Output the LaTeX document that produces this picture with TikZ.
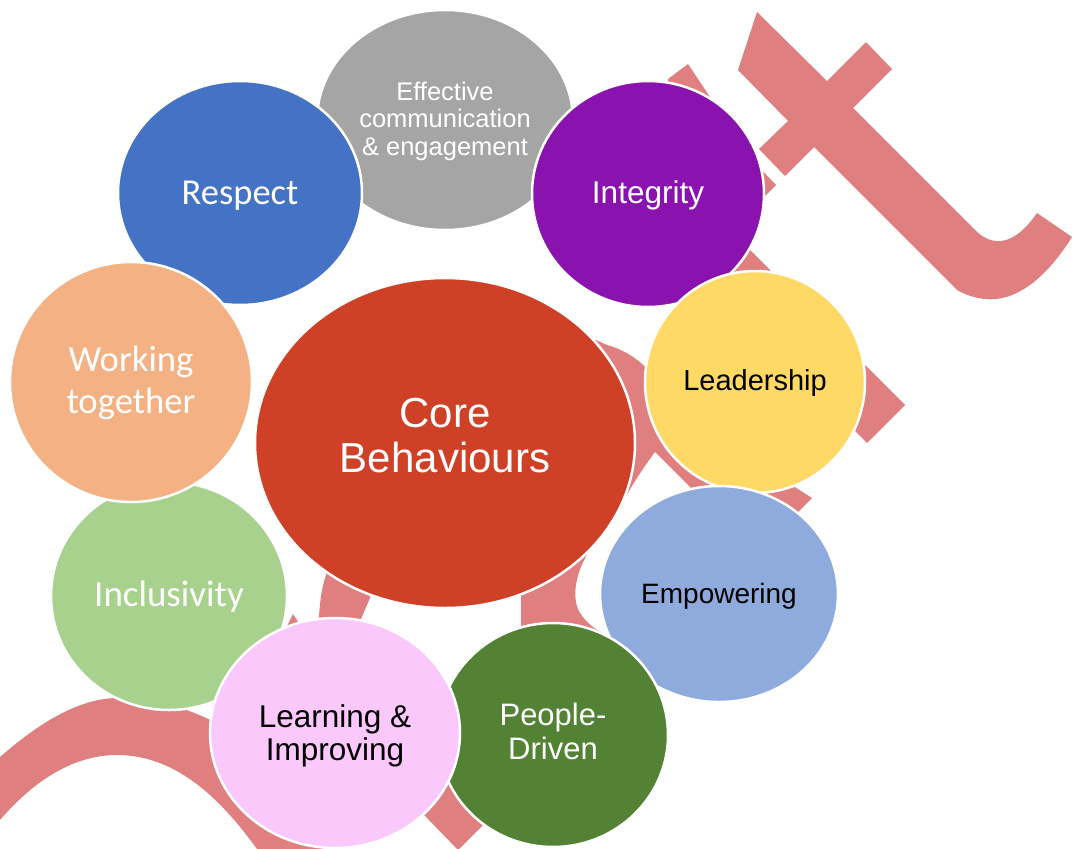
\documentclass[tikz,border=0pt]{standalone}
\usepackage{fontspec}
\setmainfont{Liberation Sans}
\newfontfamily\calibrifont{Carlito}
\usepackage{tikz}
\usetikzlibrary{shapes.geometric}
\definecolor{coreRed}{HTML}{CF4127}
\definecolor{commGray}{HTML}{A5A5A5}
\definecolor{respectBlue}{HTML}{4472C4}
\definecolor{integrityPurple}{HTML}{8A12AE}
\definecolor{leadYellow}{HTML}{FFD966}
\definecolor{empowerBlue}{HTML}{8FAADC}
\definecolor{peopleGreen}{HTML}{548235}
\definecolor{learnPink}{HTML}{FAC8FA}
\definecolor{inclGreen}{HTML}{A9D18E}
\definecolor{workOrange}{HTML}{F4B183}
\definecolor{ribbonPink}{HTML}{DF7F7F}
% bubble text, nudged up or down without moving the bubble
\newcommand{\btext}[2]{\raisebox{#1}[\height][\depth]{\begin{tabular}{@{}c@{}}#2\end{tabular}}}

\begin{document}
\begin{tikzpicture}[x=1pt, y=-1pt, bubble/.style={ellipse, draw=white, line width=2.5pt, inner sep=0pt, align=center}, ribbon/.style={fill=ribbonPink}]
\useasboundingbox (0,0) rectangle (1074,849);
\clip (0,0) rectangle (1074,849);
% pink ribbon shapes behind the bubbles
\fill[ribbon] (757,12) -- (827,81) -- (866,42) -- (892,69) -- (853,108) -- (975,230) .. controls (988,243) and (1010,252) .. (1037,213) -- (1072,237) .. controls (1045,280) and (1015,302) .. (985,299) .. controls (975,298) and (966,295) .. (957,290) -- (814,147) -- (785,176) -- (759,149) -- (788,121) -- (738,70) -- cycle;
\fill[ribbon] (700,200) -- (905,405) -- (867,443) -- (700,276) -- cycle;
\fill[ribbon] (665,100) -- (668,79) -- (688,64) -- (712,100) -- (690,125) -- cycle;
\fill[ribbon] (750,158) -- (776,185) -- (745,216) -- cycle;
\fill[ribbon] (650,447) -- (690,420) -- (812,498) -- (798,512) -- (756,553) -- cycle;
\fill[ribbon] (580,333) -- (607,345) .. controls (625,350) and (640,360) .. (652,374) -- (690,420) -- (655,452) .. controls (640,472) and (628,492) .. (617,512) -- (600,530) -- (588,553) .. controls (574,576) and (572,600) .. (580,613) .. controls (588,625) and (598,632) .. (612,637) -- (521,640) -- (521,590) -- cycle;
\fill[ribbon] (330,540) -- (326,575) .. controls (321,590) and (319,605) .. (318,640) -- (352,640) -- (370,598) -- (380,560) -- cycle;
\fill[ribbon] (280,640) -- (293,614) -- (310,640) -- cycle;
\fill[ribbon] (-10,766) -- (0,757) .. controls (40,722) and (80,698) .. (118,698) .. controls (160,698) and (200,712) .. (232,732) -- (330,849) -- (257,849) .. controls (225,805) and (180,755) .. (117,755) .. controls (70,755) and (30,785) .. (0,820) -- (-10,830) -- cycle;
\fill[ribbon] (400,790) -- (458,850) -- (497,811) -- (440,753) -- cycle;
% bubbles
\node[bubble, fill=commGray, text=white, minimum width=256pt, minimum height=220pt, font=\fontsize{25.5}{27.5}\selectfont] (comm) at (445,120) {\btext{-2pt}{Effective\\communication\\\& engagement}};
\node[bubble, fill=integrityPurple, text=white, minimum width=232pt, minimum height=226pt, font=\fontsize{31.5}{34}\selectfont] (integ) at (648,194) {\btext{-3pt}{Integrity}};
\node[bubble, fill=respectBlue, text=white, minimum width=244pt, minimum height=224pt, font=\calibrifont\fontsize{36.5}{40}\selectfont] (resp) at (240,193) {\btext{-3pt}{Respect}};
\node[bubble, fill=inclGreen, text=white, minimum width=236pt, minimum height=228pt, font=\calibrifont\fontsize{37}{40}\selectfont] (incl) at (169,596) {\btext{-2pt}{Inclusivity}};
\node[bubble, fill=workOrange, text=white, minimum width=242pt, minimum height=240pt, font=\calibrifont\fontsize{36.7}{42}\selectfont] (work) at (131,382) {\btext{-2pt}{Working\\together}};
\node[bubble, fill=leadYellow, text=black, minimum width=220pt, minimum height=222pt, font=\fontsize{29}{32}\selectfont] (lead) at (755,382) {\btext{-2pt}{Leadership}};
\node[bubble, fill=empowerBlue, text=black, minimum width=238pt, minimum height=216pt, font=\fontsize{28}{31}\selectfont] (emp) at (719,594) {\btext{-3pt}{Empowering}};
\node[bubble, fill=peopleGreen, text=white, minimum width=230pt, minimum height=224pt, font=\fontsize{31}{34}\selectfont] (people) at (553,735) {\btext{-1pt}{People-\\Driven}};
\node[bubble, fill=learnPink, text=black, minimum width=250pt, minimum height=230pt, font=\fontsize{31.5}{33}\selectfont] (learn) at (335,733) {\btext{-4pt}{Learning \&\\Improving}};
\node[bubble, fill=coreRed, text=white, minimum width=380pt, minimum height=330pt, font=\fontsize{42}{45}\selectfont] (core) at (445,443) {\btext{2pt}{Core\\Behaviours}};
\end{tikzpicture}
\end{document}
